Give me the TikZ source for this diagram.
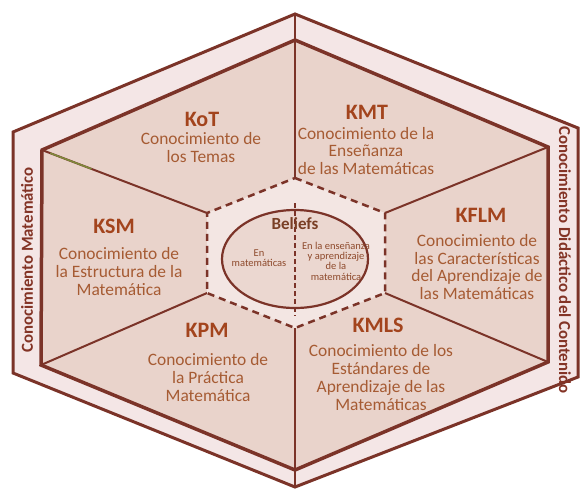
\documentclass[tikz,border=0pt]{standalone}
\usepackage{fontspec}
\usetikzlibrary{calc}
\setmainfont{Carlito}
\definecolor{linec}{HTML}{7B3328}
\definecolor{bandc}{HTML}{F4E6E6}
\definecolor{sectorc}{HTML}{E9D3CB}
\definecolor{corec}{HTML}{F3E6E3}
\definecolor{titlec}{HTML}{A3441D}
\definecolor{bodyc}{HTML}{A65B33}
\definecolor{smallc}{HTML}{8E4A2C}
\definecolor{sidec}{HTML}{833325}
\definecolor{tintc}{HTML}{7E8A3C}
\begin{document}
\begin{tikzpicture}[x=1pt,y=-1pt,
  ttl/.style={text=titlec,font=\fontsize{22}{24}\selectfont\bfseries,inner sep=0pt},
  bdy/.style={text=bodyc,font=\fontsize{17.4}{17.7}\selectfont,align=center,inner sep=0pt},
  sml/.style={text=smallc,font=\fontsize{10.5}{10.3}\selectfont,align=center,inner sep=0pt},
  side/.style={text=sidec,font=\fontsize{16.8}{18}\selectfont\bfseries,inner sep=0pt},
  radial/.style={draw=linec,line width=2pt},
  dashline/.style={draw=linec,line width=2.5pt,dash pattern=on 7pt off 5pt}]
\useasboundingbox (0,0) rectangle (580,491);
\fill[white] (0,0) rectangle (580,491);
% outer hexagon
\coordinate (O1) at (295,14);  \coordinate (O2) at (578,128);
\coordinate (O3) at (578,377); \coordinate (O4) at (295,487);
\coordinate (O5) at (13,373);  \coordinate (O6) at (13,132);
% inner hexagon
\coordinate (I1) at (295,40);  \coordinate (I2) at (548,147);
\coordinate (I3) at (548,362); \coordinate (I4) at (295,470);
\coordinate (I5) at (41,365);  \coordinate (I6) at (42,150);
% core hexagon
\coordinate (C1) at (295,178); \coordinate (C2) at (385,213);
\coordinate (C3) at (385,293); \coordinate (C4) at (295,328);
\coordinate (C5) at (207,293); \coordinate (C6) at (207,213);
\filldraw[fill=bandc,draw=linec,line width=3pt,line join=miter]
  (O1)--(O2)--(O3)--(O4)--(O5)--(O6)--cycle;
\filldraw[fill=sectorc,draw=linec,line width=3.5pt,line join=miter]
  (I1)--(I2)--(I3)--(I4)--(I5)--(I6)--cycle;
\draw[radial] (O1)--(C1);
\draw[radial] (C4)--(O4);
\draw[radial] (I2)--(C2);
\draw[radial] (I3)--(C3);
\draw[radial] (I5)--(C5);
\draw[radial] (I6)--(C6);
\coordinate (G1) at ($(I6)!0.05!(C6)$);
\coordinate (G2) at ($(I6)!0.3!(C6)$);
\draw[draw=tintc,line width=1.6pt] (G1)--(G2);
\fill[corec] (C1)--(C2)--(C3)--(C4)--(C5)--(C6)--cycle;
\draw[dashline] (C1)--(C2)--(C3)--(C4)--(C5)--(C6)--cycle;
\filldraw[fill=sectorc!80!corec,draw=linec,line width=2.2pt] (295,259) ellipse [x radius=73, y radius=49];
\coordinate (V1) at (295,203); \coordinate (V2) at (295,316);
\draw[draw=linec,line width=2.5pt,dash pattern=on 5pt off 3pt] (V1)--(V2);
% labels
\node[ttl] (kot) at (202,119) {KoT};
\node[bdy] (kotb) at (201,147.5) {Conocimiento de\\los Temas};
\node[ttl] (kmt) at (367,112.5) {KMT};
\node[bdy] (kmtb) at (366,151) {Conocimiento de la\\Enseñanza\\de las Matemáticas};
\node[ttl] (kflm) at (481,215) {KFLM};
\node[bdy] (kflmb) at (477,267) {Conocimiento de\\las Características\\del Aprendizaje de\\las Matemáticas};
\node[ttl] (ksm) at (114,226) {KSM};
\node[bdy] (ksmb) at (119,271.5) {Conocimiento de\\la Estructura de la\\Matemática};
\node[ttl] (kpm) at (207,330) {KPM};
\node[bdy] (kpmb) at (208,377.5) {Conocimiento de\\la Práctica\\Matemática};
\node[ttl] (kmls) at (378,325) {KMLS};
\node[bdy] (kmlsb) at (381,377.5) {Conocimiento de los\\Estándares de\\Aprendizaje de las\\Matemáticas};
\node[text=smallc!85!black,font=\fontsize{17}{18}\selectfont\bfseries,inner sep=0pt] (bel) at (295,224) {Beliefs};
\node[sml] (enm) at (259,258) {En\\matemáticas};
\node[sml] (ens) at (336,261) {En la enseñanza\\y aprendizaje\\de la\\matemática};
\node[side,rotate=90] (cm) at (27,260) {Conocimiento Matemático};
\node[side,rotate=-90] (cdc) at (565,260) {Conocimiento Didáctico del Contenido};
\end{tikzpicture}
\end{document}
